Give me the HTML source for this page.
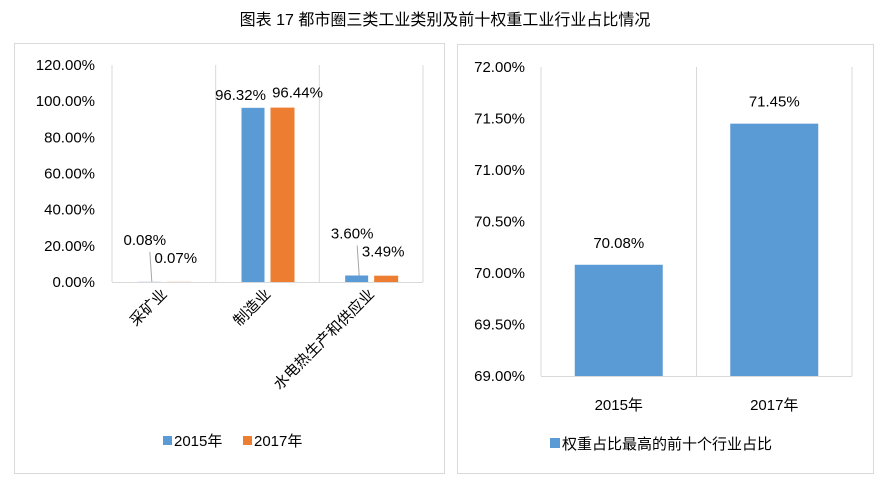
<!DOCTYPE html>
<html><head><meta charset="utf-8"><style>
body{margin:0;width:890px;height:493px;background:#fff;overflow:hidden}
svg text{font-family:"Liberation Sans","Noto Sans CJK SC",sans-serif;fill:#000}
</style></head><body>
<svg width="890" height="493">
<text x="445" y="25" text-anchor="middle" font-size="16">图表 17 都市圈三类工业类别及前十权重工业行业占比情况</text>
<rect x="14.5" y="43.5" width="430" height="430" fill="#fff" stroke="#d9d9d9"/>
<rect x="457.5" y="44.5" width="416" height="429" fill="#fff" stroke="#d9d9d9"/>
<g id="L"></g><g id="R"></g>
</svg>
<script>
const leftCategories=["采矿业","制造业","水电热生产和供应业"];
const leftSeries2015=[0.08,96.32,3.60];
const leftSeries2017=[0.07,96.44,3.49];
const leftTicks=["0.00%","20.00%","40.00%","60.00%","80.00%","100.00%","120.00%"];
const rightCategories=["2015年","2017年"];
const rightValues=[70.08,71.45];
const rightTicks=["69.00%","69.50%","70.00%","70.50%","71.00%","71.50%","72.00%"];
const NS="http://www.w3.org/2000/svg";
function mk(p,t,a,txt){const e=document.createElementNS(NS,t);for(const k in a)e.setAttribute(k,a[k]);if(txt!==undefined)e.textContent=txt;p.appendChild(e);return e;}
const FS=15;
// left
const L=document.getElementById('L');
const lx0=112,lx1=423,ly0=282,ly1=65;
const ly=v=>ly0-(v/120)*(ly0-ly1);
const bw=(lx1-lx0)/leftCategories.length;
for(let i=0;i<=leftCategories.length;i++){const g=mk(L,'line',{x1:lx0+i*bw,x2:lx0+i*bw,y1:ly1,y2:ly0,stroke:'#d9d9d9'});
}
const la=mk(L,'line',{x1:lx0,x2:lx1,y1:ly0+0.5,y2:ly0+0.5,stroke:'#d9d9d9'});

leftTicks.forEach((t,i)=>{const e=mk(L,'text',{x:95,y:ly(i*20)+5,'text-anchor':'end','font-size':FS},t);
});
leftCategories.forEach((c,i)=>{const cx=lx0+bw*(i+0.5);
const v1=leftSeries2015[i],v2=leftSeries2017[i];
const b1=mk(L,'rect',{x:cx-26,y:ly(v1),width:23,height:ly0-ly(v1),fill:'#5b9bd5'});

const b2=mk(L,'rect',{x:cx+3,y:ly(v2),width:24,height:ly0-ly(v2),fill:'#ed7d31'});

let t1y=ly(v1)-8,t2y=ly(v2)-10,t1x=cx-27,t2x=cx+30;
if(v1<10){t1y=ly(v1)-37;t2y=ly(v2)-19;t1x=cx-19;t2x=cx+12;
const ln=mk(L,'line',{x1:cx-14,y1:t1y+7,x2:cx-12,y2:ly(v1),stroke:'#a6a6a6'});
}
const l1=mk(L,'text',{x:t1x,y:t1y,'text-anchor':'middle','font-size':FS},v1.toFixed(2)+'%');

const l2=mk(L,'text',{x:t2x,y:t2y,'text-anchor':'middle','font-size':FS},v2.toFixed(2)+'%');

const xl=mk(L,'text',{x:0,y:0,'text-anchor':'end','font-size':FS,transform:`translate(${cx+4},${ly0+13}) rotate(-45)`},c);
});
[[163,'#5b9bd5','2015年'],[243,'#ed7d31','2017年']].forEach(([x,c,t])=>{
const s=mk(L,'rect',{x:x,y:436,width:9,height:9,fill:c});
const e=mk(L,'text',{x:x+11,y:446,'font-size':FS},t);});
// right
const R=document.getElementById('R');
const rx0=541,rx1=852,ry0=376,ry1=67;
const ry=v=>ry0-((v-69)/3)*(ry0-ry1);
const rw=(rx1-rx0)/rightCategories.length;
for(let i=0;i<=rightCategories.length;i++){const g=mk(R,'line',{x1:rx0+i*rw,x2:rx0+i*rw,y1:ry1,y2:ry0,stroke:'#d9d9d9'});
}
const ra=mk(R,'line',{x1:rx0,x2:rx1,y1:ry0+0.5,y2:ry0+0.5,stroke:'#d9d9d9'});

rightTicks.forEach((t,i)=>{const e=mk(R,'text',{x:525,y:ry(69+i*0.5)+5,'text-anchor':'end','font-size':FS},t);
});
rightCategories.forEach((c,i)=>{const cx=rx0+rw*(i+0.5),v=rightValues[i];
const b=mk(R,'rect',{x:cx-44,y:ry(v),width:88,height:ry0-ry(v),fill:'#5b9bd5'});

const l=mk(R,'text',{x:cx,y:ry(v)-17,'text-anchor':'middle','font-size':FS},v.toFixed(2)+'%');

const xl=mk(R,'text',{x:cx,y:ry0+34,'text-anchor':'middle','font-size':FS},c);
});
const rs=mk(R,'rect',{x:550,y:438,width:10,height:10,fill:'#5b9bd5'});
const rt=mk(R,'text',{x:562,y:449,'font-size':FS},'权重占比最高的前十个行业占比');
</script>
</body></html>
